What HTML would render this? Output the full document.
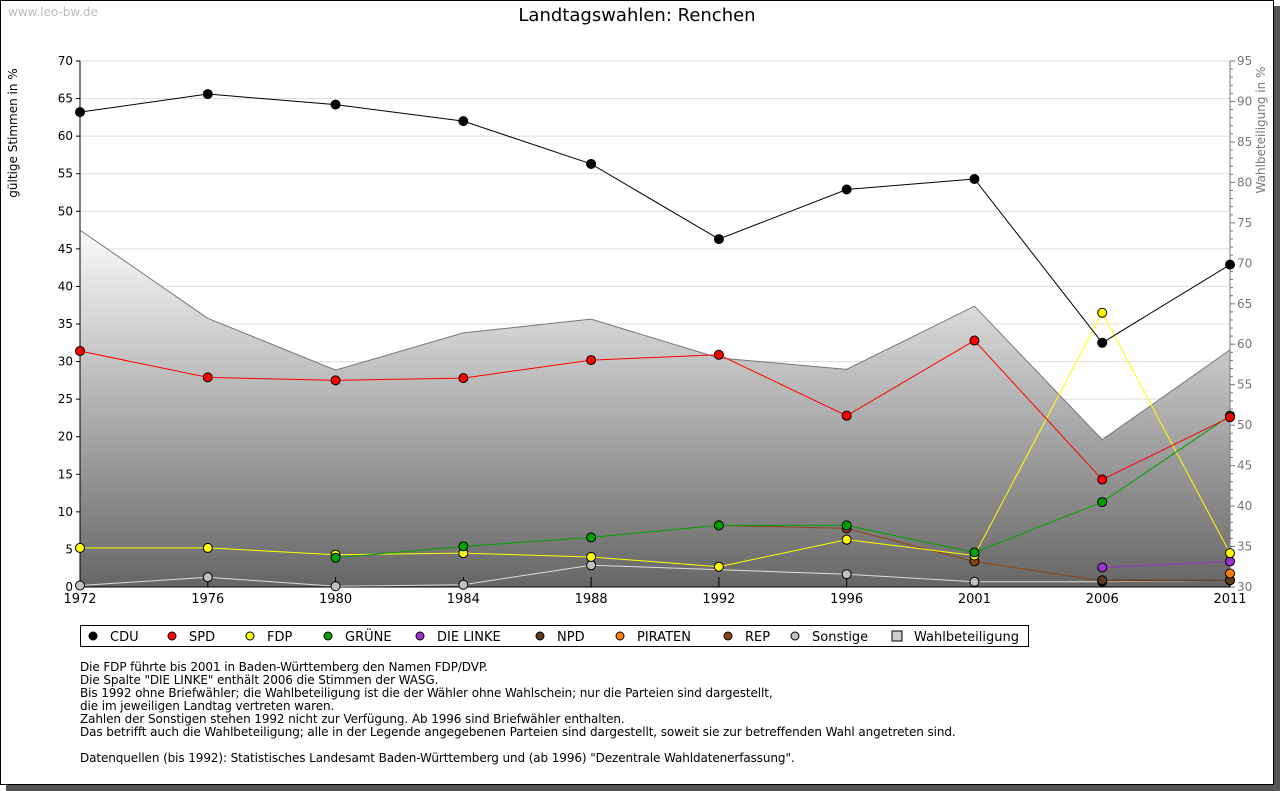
<!DOCTYPE html>
<html><head><meta charset="utf-8"><style>
body{margin:0;width:1280px;height:791px;overflow:hidden;background:#fff;font-family:"DejaVu Sans","Liberation Sans",sans-serif;}
svg{position:absolute;left:0;top:0}
.notes{position:absolute;left:80px;top:661px;font-size:12px;line-height:13px;color:#000;font-family:"DejaVu Sans","Liberation Sans",sans-serif;white-space:pre;letter-spacing:-0.1px}
</style></head><body>
<svg id="chart" width="1280" height="791">
<defs><linearGradient id="g" x1="0" y1="61" x2="0" y2="587" gradientUnits="userSpaceOnUse"><stop offset="0.3" stop-color="#ffffff"/><stop offset="1" stop-color="#666666"/></linearGradient></defs>
<rect x="6" y="6" width="1274" height="785" fill="#555"/>
<rect x="0.5" y="0.5" width="1273" height="784" fill="#fff" stroke="#000"/>
<text x="8" y="16" font-size="12" fill="#bbb">www.leo-bw.de</text>
<text x="637" y="21" font-size="18" text-anchor="middle">Landtagswahlen: Renchen</text>
<text transform="translate(17,133) rotate(-90)" font-size="12" text-anchor="middle">gültige Stimmen in %</text>
<text transform="translate(1265,130) rotate(-90)" font-size="12" fill="#777" text-anchor="middle">Wahlbeteiligung in %</text>
<g id="plot"></g>
<g id="legend"></g>
</svg>
<div class="notes">Die FDP führte bis 2001 in Baden-Württemberg den Namen FDP/DVP.
Die Spalte "DIE LINKE" enthält 2006 die Stimmen der WASG.
Bis 1992 ohne Briefwähler; die Wahlbeteiligung ist die der Wähler ohne Wahlschein; nur die Parteien sind dargestellt,
die im jeweiligen Landtag vertreten waren.
Zahlen der Sonstigen stehen 1992 nicht zur Verfügung. Ab 1996 sind Briefwähler enthalten.
Das betrifft auch die Wahlbeteiligung; alle in der Legende angegebenen Parteien sind dargestellt, soweit sie zur betreffenden Wahl angetreten sind.

Datenquellen (bis 1992): Statistisches Landesamt Baden-Württemberg und (ab 1996) "Dezentrale Wahldatenerfassung".</div>
<script>
const years=["1972","1976","1980","1984","1988","1992","1996","2001","2006","2011"];
const turnout=[74.1,63.2,56.8,61.4,63.1,58.3,56.9,64.7,48.2,59.3];
const cdu=[63.2,65.6,64.2,62.0,56.3,46.3,52.9,54.3,32.5,42.9];
const spd=[31.4,27.9,27.5,27.8,30.2,30.9,22.8,32.8,14.3,22.6];
const fdp=[5.2,5.2,4.3,4.5,4.0,2.7,6.3,4.2,36.5,4.5];
const gruene=[null,null,3.9,5.4,6.6,8.2,8.2,4.6,11.3,22.8];
const linke=[null,null,null,null,null,null,null,null,2.6,3.4];
const npd=[null,null,null,null,null,null,null,null,0.9,0.9];
const piraten=[null,null,null,null,null,null,null,null,null,1.8];
const rep=[null,null,null,null,null,8.2,7.8,3.4,0.8,0.9];
const sonstige=[0.2,1.3,0.1,0.3,2.9,null,1.7,0.7,0.7,0.9];
const leftTicks=[0,5,10,15,20,25,30,35,40,45,50,55,60,65,70];
const rightTicks=[30,35,40,45,50,55,60,65,70,75,80,85,90,95];
const X0=80,X1=1230,Y0=587,Y1=61;
const xs=i=>X0+(X1-X0)*i/(years.length-1);
const yl=v=>Y0-(v/70)*(Y0-Y1);
const yr=v=>Y0-((v-30)/65)*(Y0-Y1);
const NS="http://www.w3.org/2000/svg";
const plot=document.getElementById('plot');
function mk(t,a,p){const e=document.createElementNS(NS,t);for(const k in a)e.setAttribute(k,a[k]);(p||plot).appendChild(e);return e;}
leftTicks.forEach(v=>{if(v>0){const l=mk('line',{x1:X0,x2:X1,y1:yl(v),y2:yl(v),stroke:'#ddd'});}});
let d='M'+xs(0)+','+Y0;turnout.forEach((v,i)=>d+=' L'+xs(i)+','+yr(v));d+=' L'+xs(turnout.length-1)+','+Y0+' Z';
const ar=mk('path',{d:d,fill:'url(#g)',stroke:'none'});


let d2='';turnout.forEach((v,i)=>d2+=(i?' L':'M')+xs(i)+','+yr(v));
const tl=mk('path',{d:d2,fill:'none',stroke:'#777'});


mk('line',{x1:X0,x2:X0,y1:Y1,y2:Y0,stroke:'#000'});
mk('line',{x1:X1,x2:X1,y1:Y1,y2:Y0,stroke:'#777'});
mk('line',{x1:X0,x2:X1,y1:Y0,y2:Y0,stroke:'#000'});
leftTicks.forEach(v=>{mk('line',{x1:X0-4,x2:X0,y1:yl(v),y2:yl(v),stroke:'#000'});const t=mk('text',{x:X0-7,y:yl(v)+4,'font-size':12,'text-anchor':'end'});t.textContent=v;});
for(let v=30;v<=95;v++){mk('line',{x1:X1,x2:X1+(v%5?3:5),y1:yr(v),y2:yr(v),stroke:'#777'});}
rightTicks.forEach(v=>{const t=mk('text',{x:X1+7,y:yr(v)+4,'font-size':12,fill:'#777'});t.textContent=v;});
years.forEach((y,i)=>{mk('line',{x1:xs(i),x2:xs(i),y1:Y0,y2:Y0-10,stroke:'#000'});const t=mk('text',{x:xs(i),y:Y0+16,'font-size':13,'text-anchor':'middle'});t.textContent=y;});
const series=[["sonstige",sonstige,'#c0c0c0','#ddd'],["rep",rep,'#8b4513','#8b4513'],["npd",npd,'#5a3a22','#5a3a22'],["piraten",piraten,'#ff8000','#ff8000'],["linke",linke,'#9933cc','#9933cc'],["fdp",fdp,'#ffff00','#ffff00'],["gruene",gruene,'#00a000','#00a000'],["spd",spd,'#ff0000','#ff0000'],["cdu",cdu,'#000','#000']];
series.forEach(([n,arr,fill,lc])=>{
  let p='',started=false;
  arr.forEach((v,i)=>{if(v===null)return;p+=(started?' L':'M')+xs(i)+','+yl(v);started=true;});
  const l=mk('path',{d:p,fill:'none',stroke:lc,'stroke-width':1});
  
  
  arr.forEach((v,i)=>{if(v===null)return;const c=mk('circle',{cx:xs(i),cy:yl(v),r:4.5,fill:fill,stroke:'#000','stroke-width':1});
    
    });
});
const lg=document.getElementById('legend');
mk('rect',{x:80.5,y:625.5,width:948,height:21,fill:'#fff',stroke:'#000'},lg);
const legNames=["CDU","SPD","FDP","GRÜNE","DIE LINKE","NPD","PIRATEN","REP","Sonstige","Wahlbeteiligung"];
const legColors=['#000','#ff0000','#ffff00','#00a000','#9933cc','#5a3a22','#ff8000','#8b4513','#c0c0c0','#ccc'];
const legX=[93,172,250,328,420,540,620,728,795,897];
legNames.forEach((nm,i)=>{
  if(i===9){mk('rect',{x:legX[i]-5,y:631,width:10,height:10,fill:legColors[i],stroke:'#000'},lg);}
  else mk('circle',{cx:legX[i],cy:636,r:4,fill:legColors[i],stroke:'#000'},lg);
  const t=mk('text',{x:legX[i]+17,y:641,'font-size':13},lg);t.textContent=nm;
  
  
});
</script>
</body></html>
